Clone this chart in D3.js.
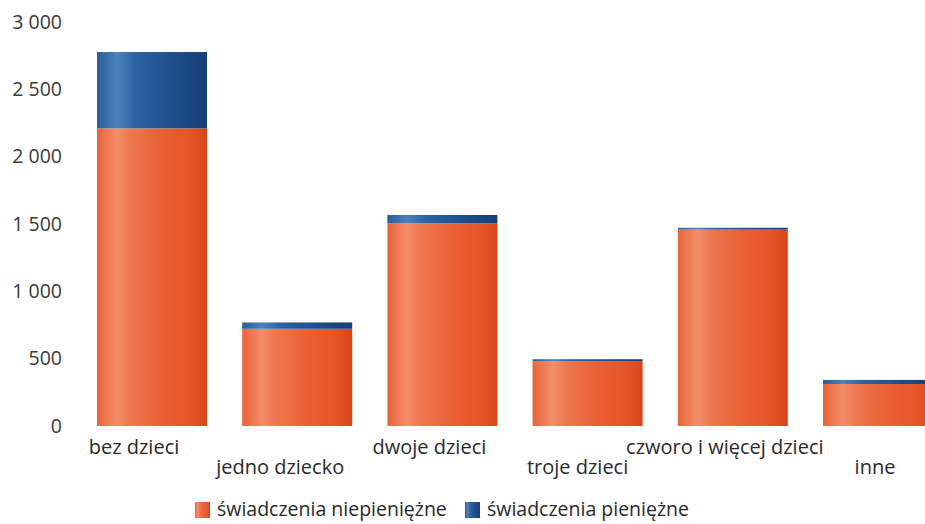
<!DOCTYPE html>
<html><head><meta charset="utf-8">
<script src="https://cdn.jsdelivr.net/npm/d3@7"></script>
<style>
body{margin:0;background:#fff;}
text{font-family:"Open Sans",sans-serif;}
</style></head>
<body><svg id="c" width="925" height="524"></svg>
<script>
const categories = ["bez dzieci","jedno dziecko","dwoje dzieci","troje dzieci","czworo i więcej dzieci","inne"];
const niepieniezne = [2210, 722, 1505, 482, 1458, 312];
const pieniezne = [567, 47, 62, 14, 14, 30];
const seriesNames = ["świadczenia niepieniężne","świadczenia pieniężne"];
const yTicks = [0, 500, 1000, 1500, 2000, 2500, 3000];

const svg = d3.select("#c");
const defs = svg.append("defs");
function grad(id, stops){
  const g = defs.append("linearGradient").attr("id", id).attr("x1","0").attr("x2","1").attr("y1","0").attr("y2","0");
  stops.forEach(s => g.append("stop").attr("offset", s[0]).attr("stop-color", s[1]));
}
grad("gO", [[0,"#e9643a"],[0.18,"#f28e6a"],[0.3,"#ee7850"],[0.6,"#e95f33"],[0.85,"#e65528"],[1,"#d8441a"]]);
grad("gB", [[0,"#2a5c9a"],[0.18,"#4a82bd"],[0.35,"#2d62a2"],[0.7,"#1e4d8c"],[1,"#173e77"]]);

const x = d3.scaleBand().domain(categories).range([79.4, 950.6]).paddingInner(0.2424).paddingOuter(0.1212);
const y = d3.scaleLinear().domain([0, 3000]).range([426, 22]);

const fmt = v => d3.format(",")(v).replace(/,/g, " ");

const yAxis = d3.axisLeft(y).tickValues(yTicks).tickFormat(fmt).tickSize(0).tickPadding(0);
const ga = svg.append("g").attr("transform","translate(62,0)").call(yAxis);
ga.select(".domain").remove();
ga.selectAll("text").attr("font-family","Open Sans").attr("font-size",19.5).attr("fill","#3a3a3a");

const stacked = categories.map((c,i)=>({c, a:niepieniezne[i], b:pieniezne[i]}));
const bars = svg.append("g");
bars.selectAll("rect.o").data(stacked).join("rect").attr("class","o")
  .attr("x", d=>x(d.c)).attr("width", x.bandwidth())
  .attr("y", d=>y(d.a)).attr("height", d=>y(0)-y(d.a)).attr("fill","url(#gO)");
bars.selectAll("rect.b").data(stacked).join("rect").attr("class","b")
  .attr("x", d=>x(d.c)).attr("width", x.bandwidth())
  .attr("y", d=>y(d.a+d.b)).attr("height", d=>y(d.a)-y(d.a+d.b)).attr("fill","url(#gB)");

const offs = [-18,-17,-13,-10,-8,-3];
svg.append("g").selectAll("text").data(categories).join("text")
  .attr("x",(d,i)=>x(d)+x.bandwidth()/2+offs[i])
  .attr("y",(d,i)=> i%2===0 ? 454 : 474)
  .attr("text-anchor","middle").attr("font-size",20).attr("fill","#2a2a2a")
  .text(d=>d);

const leg = svg.append("g");
const legItems = [{n:seriesNames[0], f:"url(#gO)", x:195},{n:seriesNames[1], f:"url(#gB)", x:465}];
leg.selectAll("rect").data(legItems).join("rect")
  .attr("x",d=>d.x).attr("y",502).attr("width",15).attr("height",16).attr("fill",d=>d.f);
leg.selectAll("text").data(legItems).join("text")
  .attr("x",d=>d.x+22).attr("y",516).attr("font-size",19.5).attr("fill","#2a2a2a").text(d=>d.n);
</script></body></html>
